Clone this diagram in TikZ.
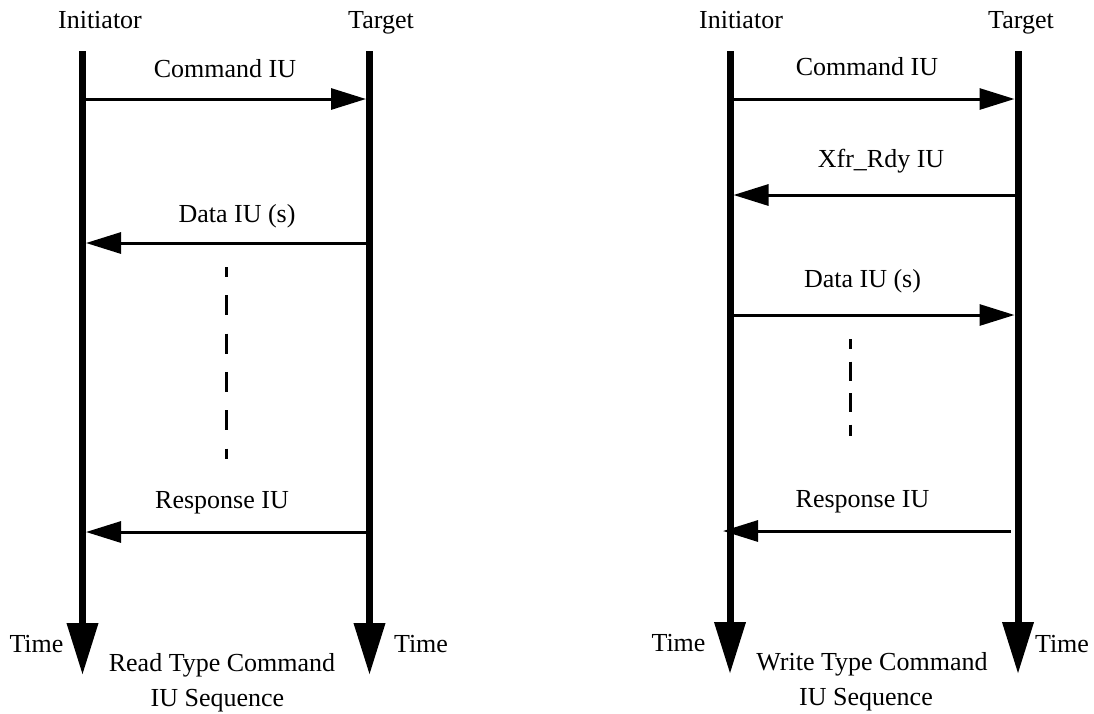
\documentclass[tikz,border=0pt]{standalone}
\usepackage{fontspec}
\setmainfont{Liberation Serif}
\usetikzlibrary{arrows.meta}
\begin{document}
\begin{tikzpicture}[x=1pt,y=-1pt,
  lifeline/.style={line width=7pt,-{Triangle[length=52pt,width=30pt]}},
  msg/.style={line width=3pt,-{Triangle[length=35pt,width=21pt]}},
  gapline/.style={line width=3pt},
  lbl/.style={anchor=base,inner sep=0pt,font=\fontsize{26}{30}\selectfont}]
\useasboundingbox (0,0) rectangle (1094,713);
% ---------- left diagram ----------
\coordinate (LI0) at (82.5,51);  \coordinate (LI1) at (82.5,675);
\coordinate (LT0) at (369.5,51); \coordinate (LT1) at (369.5,675);
\draw[lifeline] (LI0) -- (LI1);
\draw[lifeline] (LT0) -- (LT1);
\node[lbl] (linit) at (100,28) {Initiator};
\node[lbl] (ltarg) at (381,28) {Target};
\coordinate (la1) at (86,99);  \coordinate (lb1) at (366,99);
\coordinate (la2) at (86,243); \coordinate (lb2) at (366,243);
\coordinate (la3) at (86,532); \coordinate (lb3) at (366,532);
\draw[msg] (la1) -- (lb1);
\draw[msg] (lb2) -- (la2);
\draw[msg] (lb3) -- (la3);
\node[lbl] (lcmd) at (225,77) {Command IU};
\node[lbl] (ldata) at (237,222) {Data IU (s)};
\node[lbl] (lresp) at (222,508) {Response IU};
\coordinate (ld0) at (226.5,267); \coordinate (ld1) at (226.5,459);
\draw[gapline,dash pattern=on 20pt off 18.3pt,dash phase=10pt] (ld0) -- (ld1);
\node[lbl] (ltime1) at (36.5,652) {Time};
\node[lbl] (ltime2) at (421,652) {Time};
\node[lbl] (lcap1) at (222,671) {Read Type Command};
\node[lbl] (lcap2) at (217.5,706) {IU Sequence};
% ---------- right diagram ----------
\coordinate (RI0) at (730,51);  \coordinate (RI1) at (730,674);
\coordinate (RT0) at (1018,51); \coordinate (RT1) at (1018,674);
\draw[lifeline] (RI0) -- (RI1);
\draw[lifeline] (RT0) -- (RT1);
\node[lbl] (rinit) at (741,28) {Initiator};
\node[lbl] (rtarg) at (1021,28) {Target};
\coordinate (ra1) at (733.5,99);  \coordinate (rb1) at (1014.5,99);
\coordinate (ra2) at (733.5,195); \coordinate (rb2) at (1014.5,195);
\coordinate (ra3) at (733.5,315); \coordinate (rb3) at (1014.5,315);
\coordinate (ra4) at (723,531);   \coordinate (rb4) at (1011,531);
\draw[msg] (ra1) -- (rb1);
\draw[msg] (rb2) -- (ra2);
\draw[msg] (ra3) -- (rb3);
\draw[msg] (rb4) -- (ra4);
\node[lbl] (rcmd) at (867,75) {Command IU};
\node[lbl] (rxfr) at (881,167) {Xfr\_Rdy IU};
\node[lbl] (rdata) at (862.5,287) {Data IU (s)};
\node[lbl] (rresp) at (862.5,507) {Response IU};
\coordinate (rd0) at (850,339); \coordinate (rd1) at (850,436);
\draw[gapline,dash pattern=on 19pt off 12.5pt,dash phase=9pt] (rd0) -- (rd1);
\node[lbl] (rtime1) at (678.5,651) {Time};
\node[lbl] (rtime2) at (1062,652) {Time};
\node[lbl] (rcap1) at (872,670) {Write Type Command};
\node[lbl] (rcap2) at (866,705) {IU Sequence};
\end{tikzpicture}
\end{document}
